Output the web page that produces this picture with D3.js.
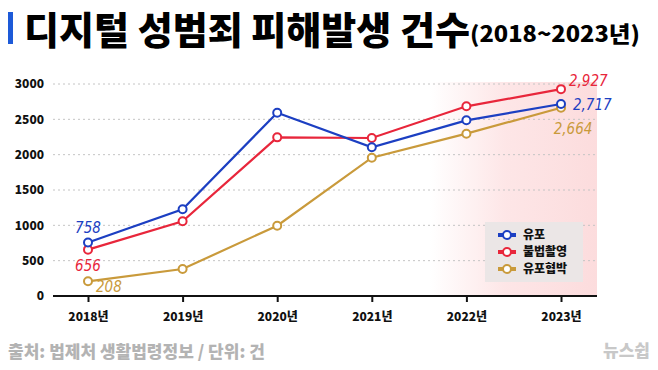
<!DOCTYPE html>
<html>
<head>
<meta charset="utf-8">
<script src="https://cdn.jsdelivr.net/npm/d3@7"></script>
<style>
  body { margin: 0; background: #fff; }
  svg { display: block; }
</style>
</head>
<body>
<svg width="658" height="370"></svg>
<script>
// data
var years = ['2018년', '2019년', '2020년', '2021년', '2022년', '2023년'];
var yuPo = [758, 1227, 2594, 2104, 2486, 2717];
var bulbeop = [656, 1057, 2245, 2236, 2684, 2927];
var hyeopbak = [208, 382, 995, 1957, 2297, 2664];
var yTicks = [0, 500, 1000, 1500, 2000, 2500, 3000];

var series = [
  {name: '유포', values: yuPo, color: '#1c3fc2'},
  {name: '불법촬영', values: bulbeop, color: '#e8263b'},
  {name: '유포협박', values: hyeopbak, color: '#c99a3b'}
];

var svg = d3.select('svg');
var font = "'Noto Sans CJK KR', 'Noto Sans', sans-serif";

// title
svg.append('rect').attr('x', 8).attr('y', 12).attr('width', 5).attr('height', 32).attr('fill', '#1d5ad8');
svg.append('text')
  .attr('x', 24).attr('y', 44)
  .attr('font-family', font).attr('font-weight', 900).attr('font-size', 38)
  .attr('textLength', 446).attr('lengthAdjust', 'spacingAndGlyphs')
  .text('디지털 성범죄 피해발생 건수');
svg.append('text')
  .attr('x', 470).attr('y', 42)
  .attr('font-family', font).attr('font-weight', 900).attr('font-size', 22)
  .attr('textLength', 170).attr('lengthAdjust', 'spacingAndGlyphs')
  .text('(2018~2023년)');

// scales
var x = d3.scalePoint().domain(years).range([88, 561]);
var y = d3.scaleLinear().domain([0, 3000]).range([296, 84]);

// pink highlight
var defs = svg.append('defs');
var grad = defs.append('linearGradient').attr('id', 'pinkfade').attr('x1', 0).attr('x2', 1).attr('y1', 0).attr('y2', 0);
grad.append('stop').attr('offset', '0%').attr('stop-color', '#fde3e4').attr('stop-opacity', 0);
grad.append('stop').attr('offset', '45%').attr('stop-color', '#fde3e4').attr('stop-opacity', 0.9);
grad.append('stop').attr('offset', '100%').attr('stop-color', '#fcdcdd').attr('stop-opacity', 1);
svg.append('rect')
  .attr('x', 430).attr('y', y(3000) - 2)
  .attr('width', 597 - 430).attr('height', y(0) - y(3000) + 2)
  .attr('fill', 'url(#pinkfade)');

// gridlines
svg.append('g').selectAll('line')
  .data(yTicks.filter(d => d > 0))
  .enter().append('line')
  .attr('x1', 53).attr('x2', 597)
  .attr('y1', d => y(d)).attr('y2', d => y(d))
  .attr('stroke', '#c4c4c4').attr('stroke-width', 1)
  .attr('stroke-dasharray', '2,3');

// y axis
var yAxis = d3.axisLeft(y).tickValues(yTicks).tickFormat(d3.format('d')).tickSize(0).tickPadding(0);
var gy = svg.append('g').attr('transform', 'translate(44,0)').call(yAxis);
gy.select('.domain').remove();
gy.selectAll('text')
  .attr('font-family', font).attr('font-weight', 900).attr('font-size', 12).attr('fill', '#111');

// x axis
var xAxis = d3.axisBottom(x).tickSize(6).tickPadding(10);
var gx = svg.append('g').attr('transform', 'translate(0,' + y(0) + ')').call(xAxis);
gx.select('.domain').attr('d', 'M53,0H597').attr('stroke', '#111').attr('stroke-width', 2);
gx.selectAll('.tick line').attr('stroke', '#111').attr('stroke-width', 2);
gx.selectAll('text')
  .attr('font-family', font).attr('font-weight', 900).attr('font-size', 12).attr('fill', '#111');

// lines
var line = d3.line().x((d, i) => x(years[i])).y(d => y(d));
var drawOrder = [series[2], series[1], series[0]];
drawOrder.forEach(s => {
  svg.append('path').datum(s.values)
    .attr('d', line).attr('fill', 'none')
    .attr('stroke', s.color).attr('stroke-width', 2.2);
  svg.append('g').selectAll('circle')
    .data(s.values).enter().append('circle')
    .attr('cx', (d, i) => x(years[i])).attr('cy', d => y(d))
    .attr('r', 4).attr('fill', '#fff')
    .attr('stroke', s.color).attr('stroke-width', 2);
});

// handwritten-style value labels
var hand = "'DejaVu Sans', sans-serif";
function valueLabel(s, i, dx, dy, anchor) {
  var v = s.values[i];
  svg.append('text')
    .attr('x', x(years[i]) + dx).attr('y', y(v) + dy)
    .attr('text-anchor', anchor)
    .attr('font-family', hand).attr('font-style', 'italic').attr('font-size', 15)
    .attr('font-stretch', 'condensed').attr('fill', s.color)
    .text(d3.format(',')(v));
}
valueLabel(series[0], 0, 0, -9, 'middle');
valueLabel(series[1], 0, 0, 21, 'middle');
valueLabel(series[2], 0, 8, 11, 'start');
valueLabel(series[1], 5, 8, -3, 'start');
valueLabel(series[0], 5, 12, 6, 'start');
valueLabel(series[2], 5, 12, 26, 'middle');

// legend
var lg = svg.append('g').attr('transform', 'translate(485,222)');
lg.append('rect').attr('width', 98).attr('height', 60).attr('fill', '#ebe6e6');
series.forEach((s, i) => {
  var row = lg.append('g').attr('transform', 'translate(0,' + (13 + i * 17) + ')');
  row.append('line').attr('x1', 13).attr('x2', 31).attr('y1', 0).attr('y2', 0)
    .attr('stroke', s.color).attr('stroke-width', 4);
  row.append('circle').attr('cx', 22).attr('cy', 0).attr('r', 4)
    .attr('fill', '#fff').attr('stroke', s.color).attr('stroke-width', 2);
  row.append('text').attr('x', 38).attr('y', 0).attr('dy', '0.35em')
    .attr('font-family', font).attr('font-weight', 900).attr('font-size', 12).attr('fill', '#111')
    .text(s.name);
});

// footer
svg.append('text')
  .attr('x', 8).attr('y', 358)
  .attr('font-family', font).attr('font-weight', 900).attr('font-size', 17).attr('fill', '#b3b3b3')
  .text('출처: 법제처 생활법령정보 / 단위: 건');
svg.append('text')
  .attr('x', 650).attr('y', 357).attr('text-anchor', 'end')
  .attr('font-family', font).attr('font-weight', 900).attr('font-size', 17).attr('fill', '#c8c8c8')
  .text('뉴스쉽');
</script>
</body>
</html>
